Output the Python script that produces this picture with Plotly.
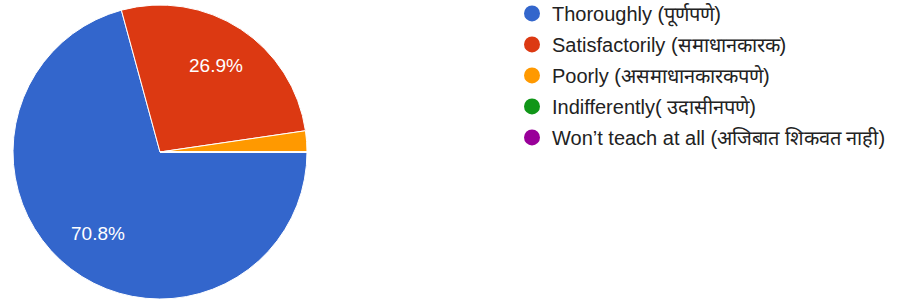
import math
import plotly.graph_objects as go

labels = ["Thoroughly (पूर्णपणे)", "Satisfactorily (समाधानकारक)", "Poorly (असमाधानकारकपणे)",
          "Indifferently( उदासीनपणे)", "Won’t teach at all (अजिबात शिकवत नाही)"]
counts = [92, 35, 3, 0, 0]
colors = ["#3366cc", "#dc3912", "#ff9900", "#109618", "#990099"]

W, H = 904, 303
CX, CY, R = 160, 152, 147  # pie centre / radius in px (layout)
START = 90  # degrees clockwise from 12 o'clock

total = sum(counts)

fig = go.Figure()
fig.add_trace(go.Pie(
    labels=labels, values=counts, textinfo="none",
    marker=dict(colors=colors, line=dict(color="white", width=1)),
    sort=False, direction="clockwise", rotation=START,
    showlegend=False, hoverinfo="label+percent",
    domain=dict(x=[(CX - R) / W, (CX + R) / W], y=[1 - (CY + R) / H, 1 - (CY - R) / H]),
))

# percentage labels placed along each slice's mid-angle
acc = 0
for c in counts:
    frac = c / total
    mid = START + 360 * (acc + frac / 2)
    acc += frac
    if frac < 0.05:
        continue
    a = math.radians(mid)
    px = CX + 0.7 * R * math.sin(a)
    py = CY - 0.7 * R * math.cos(a)
    fig.add_annotation(x=px / W, y=1 - py / H, xref="paper", yref="paper",
                       xanchor="center", yanchor="middle",
                       text=f"{frac * 100:.1f}%", showarrow=False,
                       font=dict(color="white", size=19, family="Liberation Sans, Arial"))

for i, (lab, col) in enumerate(zip(labels, colors)):
    fig.add_trace(go.Scatter(
        x=[None], y=[None], mode="markers", name=lab,
        marker=dict(color=col, size=19, symbol="circle"),
        legendgroup=f"g{i}", showlegend=True,
    ))

fig.update_layout(
    width=W, height=H,
    margin=dict(l=0, r=0, t=0, b=0, autoexpand=False),
    paper_bgcolor="white", plot_bgcolor="white",
    xaxis=dict(visible=False), yaxis=dict(visible=False),
    legend=dict(x=512 / W, y=1.02, xanchor="left", yanchor="top", maxheight=300,
                font=dict(family="Liberation Sans, Arial, sans-serif", size=20, color="#222222"),
                tracegroupgap=2, traceorder="grouped", bgcolor="rgba(0,0,0,0)"),
)
fig.write_html("out.html", config={"displayModeBar": False},
               post_script="document.body.style.margin='0';")
